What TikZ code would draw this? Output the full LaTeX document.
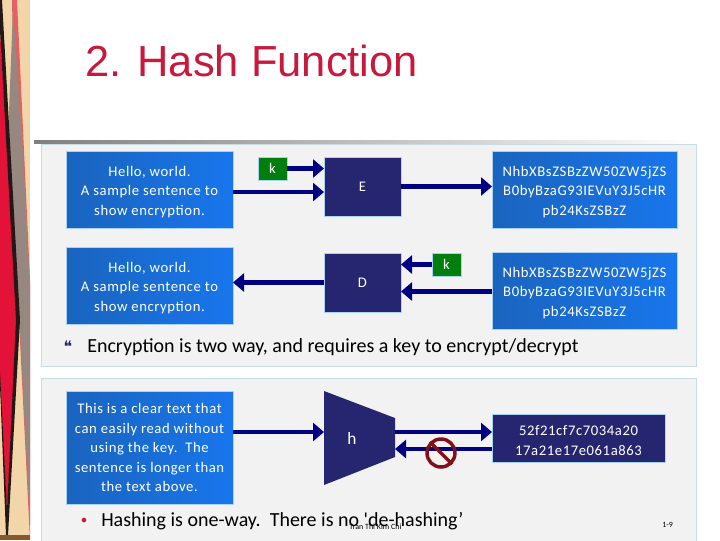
\documentclass[tikz,border=0pt]{standalone}
\usepackage{fontspec}
\setmainfont{Carlito}
\newfontfamily\titlefont{Liberation Sans}
\newfontfamily\markfont{DejaVu Sans}
\newfontfamily\plainfont{Carlito}
\usepackage{xcolor}
\definecolor{stripbg}{RGB}{242,214,170}
\definecolor{stripred}{RGB}{227,18,56}
\definecolor{stripdark}{RGB}{35,24,21}
\definecolor{stripgrey}{RGB}{150,136,128}
\definecolor{stripsalmon}{RGB}{226,98,98}
\definecolor{titlered}{RGB}{200,24,60}
\definecolor{panelbg}{RGB}{242,242,242}
\definecolor{panelline}{RGB}{200,218,226}
\definecolor{bluedark}{RGB}{26,100,190}
\definecolor{bluelight}{RGB}{24,118,236}
\definecolor{boxline}{RGB}{170,210,245}
\definecolor{blockbg}{RGB}{38,38,112}
\definecolor{keybg}{RGB}{0,127,14}
\definecolor{flowblue}{RGB}{0,0,128}
\definecolor{banred}{RGB}{130,16,24}
\usetikzlibrary{arrows.meta, positioning}
\newcommand{\boxfont}{\fontsize{11}{14.6}\selectfont\addfontfeatures{LetterSpace=4}}
\newcommand{\topline}{\rule{0pt}{11pt}}
\tikzset{
  textbox/.style={draw=boxline, line width=0.4pt, left color=bluedark, right color=bluelight,
        text=white, align=center, outer sep=0pt, inner sep=0pt,
        minimum width=125.25pt, minimum height=57.75pt, font=\boxfont},
  widebox/.style={textbox, minimum width=138.75pt},
  blockbox/.style={draw=boxline, line width=0.2pt, fill=blockbg, text=white, align=center,
        outer sep=0pt, inner sep=0pt, font=\boxfont},
  keybox/.style={draw=boxline, line width=0.2pt, fill=keybg, text=white, outer sep=0pt, inner sep=0pt,
        minimum width=21.75pt, minimum height=17.25pt, font=\fontsize{11}{13}\selectfont},
  flow/.style={-{Triangle[length=8.25pt,width=13.5pt]}, draw=flowblue, line width=3.1pt},
  panel/.style={draw=panelline, fill=panelbg, line width=0.6pt},
  note/.style={anchor=base west, inner sep=0pt, font=\fontsize{15}{18}\selectfont}
}
\begin{document}
\begin{tikzpicture}[x=0.75pt, y=-0.75pt]
  \useasboundingbox (0,0) rectangle (720,540);
  % left strip
  \fill[stripbg] (0,0) rectangle (30,540);
  \fill[stripsalmon] (12,0) -- (17,0) -- (30,280) -- (30,540) -- (19,320) -- cycle;
  \fill[stripgrey] (13,8) -- (22,138) -- (30,285) -- (30,525) -- (20,330) -- (8,138) -- cycle;
  \fill[stripred] (0,30) -- (17,310) -- (7,515) -- (0,380) -- cycle;
  \fill[stripdark] (0,0) -- (2,0) -- (20,320) -- (8,535) -- (6,535) -- (0,385) -- (0,372)
    -- (7,510) -- (16,320) -- (0,30) -- cycle;
  \fill[brown!70!black] (0,535) rectangle (30,540);
  % title
  \node[anchor=base west, inner sep=0pt, text=titlered, font=\titlefont\fontsize{32.6}{36}\selectfont]
    (title) at (85,76) {2. Hash Function};
  \shade[left color=gray, right color=white] (34,140) rectangle (696,143);
  \draw[panel] (41,144) rectangle (696,366);
  \draw[panel] (41,378) rectangle (696,541);
  % two way
  \node[textbox] (plain) at (149.5,189.5) {\topline Hello, world.\\A sample sentence to\\show encryption.};
  \node[textbox, below=14.25pt of plain] (plainback) {\topline Hello, world.\\A sample sentence to\\show encryption.};
  \node[blockbox, minimum width=57.75pt, minimum height=44.25pt] (enc) at (362.5,186.5) {E};
  \node[blockbox, minimum width=57.75pt, minimum height=44.25pt, below=27.75pt of enc] (dec) {D};
  \node[keybox] (keyenc) at (272.5,168.5) {k};
  \node[keybox] (keydec) at (446.5,264.5) {k};
  \node[widebox] (cipher) at (584.5,189.5)
    {\topline NhbXBsZSBzZW50ZW5jZS\\B0byBzaG93IEVuY3J5cHR\\pb24KsZSBzZ};
  \node[widebox, below=18pt of cipher] (cipherback)
    {\topline NhbXBsZSBzZW50ZW5jZS\\B0byBzaG93IEVuY3J5cHR\\pb24KsZSBzZ};
  \draw[flow] (keyenc.east) -- (keyenc.east -| enc.west);
  \draw[flow] ([yshift=-1.9pt]plain.east) -- ([yshift=-1.9pt]plain.east -| enc.west);
  \draw[flow] (enc.east) -- (enc.east -| cipher.west);
  \draw[flow] (keydec.west) -- (keydec.west -| dec.east);
  \draw[flow] ([yshift=-0.75pt]cipherback.west) -- ([yshift=-0.75pt]cipherback.west -| dec.east);
  \draw[flow] (dec.west) -- (dec.west -| plainback.east);
  \node[anchor=base, inner sep=0pt, text=blockbg, font=\markfont\fontsize{12}{14}\selectfont]
    (markone) at (68,352) {❝};
  \node[note] (twoway) at (87,352) {Encryption is two way, and requires a key to encrypt/decrypt};
  % one way
  \node[textbox, minimum height=84.75pt] (clear) at (149.5,447.5)
    {This is a clear text that\\can easily read without\\using the key.\ \ The\\sentence is longer than\\the text above.};
  \fill[blockbg] (324,391) -- (395,418) -- (395,457) -- (324,485) -- cycle;
  \coordinate (hin) at (324,432);
  \coordinate (hout) at (395,432);
  \coordinate (hback) at (395,449);
  \node[text=white, inner sep=0pt, font=\fontsize{13}{15}\selectfont] (hlabel) at (352,438) {h};
  \node[blockbox, minimum width=129.75pt, minimum height=36pt] (digest) at (578.5,438)
    {\topline 52f21cf7c7034a20\\17a21e17e061a863};
  \draw[flow] (clear.east |- hin) -- (hin);
  \draw[flow] (hout) -- (hout -| digest.west);
  \draw[flow] (hback -| digest.west) -- (hback);
  \node[circle, draw=banred, line width=2.6pt, minimum size=21pt, inner sep=0pt] (ban) at (441,453) {};
  \draw[banred, line width=2.6pt] (ban.north west) -- (ban.south east);
  \node[anchor=base, inner sep=0pt, text=titlered, font=\markfont\fontsize{12}{14}\selectfont]
    (marktwo) at (84,526) {•};
  \node[note] (oneway) at (101,526) {Hashing is one-way.\ \ There is no {\plainfont '}de-hashing’};
  \node[anchor=base west, inner sep=0pt, font=\fontsize{6}{7}\selectfont] (author) at (349,529) {Tran Thi Kim Chi};
  \node[anchor=base west, inner sep=0pt, font=\fontsize{6}{7}\selectfont] (pagenum) at (662,527) {1-9};
\end{tikzpicture}
\end{document}
